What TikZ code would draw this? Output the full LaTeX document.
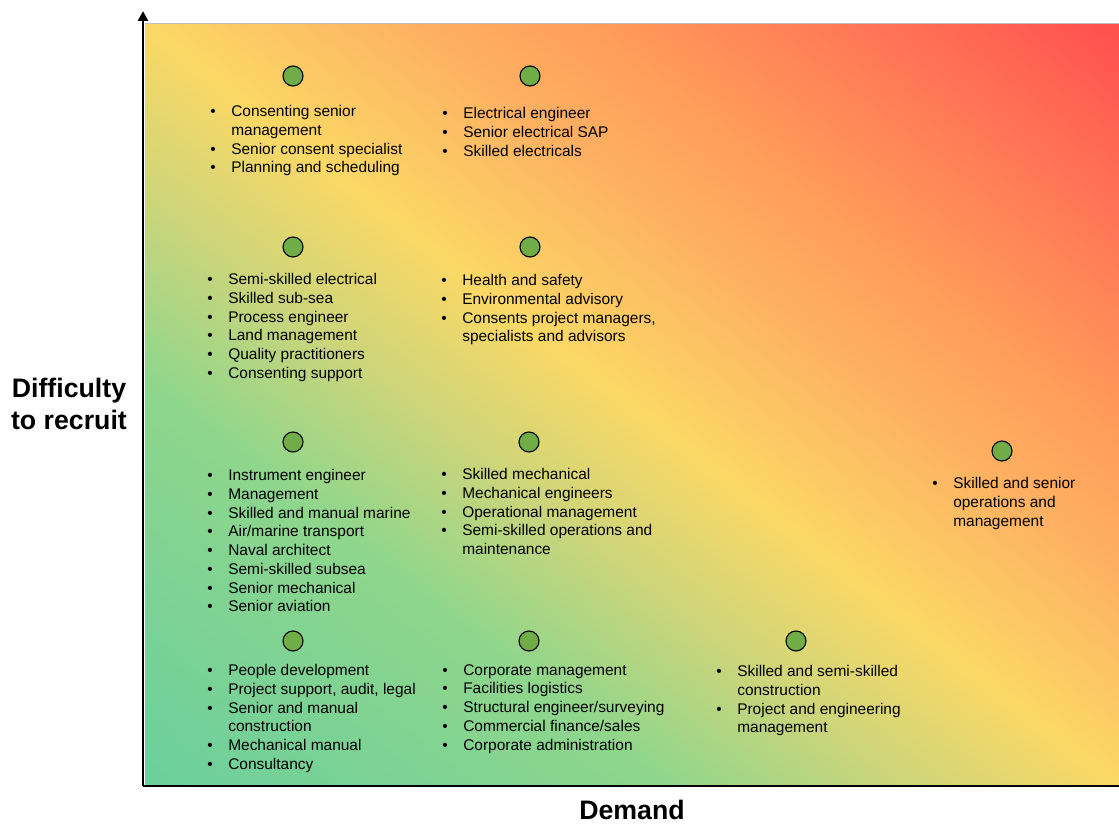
\documentclass[tikz,border=0pt]{standalone}
\usepackage{fontspec}
\setmainfont{Liberation Sans}
\usetikzlibrary{arrows.meta}

\definecolor{dotgreen}{HTML}{70AD47}
\definecolor{bgA}{HTML}{6BCF9D}
\definecolor{bgB}{HTML}{8ED68C}
\definecolor{bgC}{HTML}{CDD57A}
\definecolor{bgD}{HTML}{FBD865}
\definecolor{bgE}{HTML}{FDB062}
\definecolor{bgF}{HTML}{FF9F5A}
\definecolor{bgG}{HTML}{FF6F55}
\definecolor{bgH}{HTML}{FF4E4E}
% plot area corners sit at 20bp (bottom left) and 80bp (top right)
\pgfdeclarehorizontalshading{demandfade}{100bp}{color(0bp)=(bgA); color(20bp)=(bgA);
  color(36bp)=(bgB); color(43.4bp)=(bgC); color(50bp)=(bgD); color(58.4bp)=(bgE);
  color(63.2bp)=(bgF); color(73.4bp)=(bgG); color(80bp)=(bgH); color(100bp)=(bgH)}

\newcommand{\bitem}{\makebox[0.525cm][l]{\textbullet}}
\newcommand{\bcont}{\hspace*{0.525cm}}

\begin{document}
\begin{tikzpicture}[x=0.025cm, y=0.025cm,
  dot/.style={circle, draw=black, line width=0.8pt, fill=dotgreen, minimum size=0.5cm, inner sep=0pt},
  lst/.style={anchor=north west, align=left, inner sep=0pt, font=\fontsize{11pt}{13.35pt}\selectfont},
  axislbl/.style={align=center, inner sep=0pt, font=\fontsize{19pt}{22.7pt}\selectfont\bfseries},
  axis/.style={line width=1.8pt}]
  \useasboundingbox (0,0) rectangle (1119,-824);

  % background, gradient from bottom left to top right
  \begin{scope}
    \clip (145,-23) rectangle (1119,-785);
    \shade[shading=demandfade, shading angle=52] (132,-904) rectangle (1132,96);
  \end{scope}
  \draw[gray!50, line width=0.4pt] (145,-23) -- (1119,-23);

  % axes
  \coordinate (origin) at (143,-786);
  \coordinate (ytop) at (143,-11);
  \coordinate (xend) at (1119,-786);
  \draw[axis, -{Triangle[width=7pt,length=7pt]}] (origin) -- (ytop);
  \draw[axis] (origin) -- (xend);

  \node[axislbl] (ylabel) at (69,-404) {Difficulty\\to recruit};
  \node[axislbl] (xlabel) at (632,-810) {Demand};

  % top row
  \node[dot] (d11) at (293,-76) {};
  \node[lst] (l11) at (210,-105) {\bitem Consenting senior\\ \bcont management\\
    \bitem Senior consent specialist\\ \bitem Planning and scheduling};
  \node[dot] (d12) at (530,-76) {};
  \node[lst] (l12) at (442,-107) {\bitem Electrical engineer\\ \bitem Senior electrical SAP\\
    \bitem Skilled electricals};

  % second row
  \node[dot] (d21) at (293,-247) {};
  \node[lst] (l21) at (207,-273) {\bitem Semi-skilled electrical\\ \bitem Skilled sub-sea\\
    \bitem Process engineer\\ \bitem Land management\\ \bitem Quality practitioners\\
    \bitem Consenting support};
  \node[dot] (d22) at (530,-247) {};
  \node[lst] (l22) at (441,-274) {\bitem Health and safety\\ \bitem Environmental advisory\\
    \bitem Consents project managers,\\ \bcont specialists and advisors};

  % third row
  \node[dot] (d31) at (293,-442) {};
  \node[lst] (l31) at (207,-469) {\bitem Instrument engineer\\ \bitem Management\\
    \bitem Skilled and manual marine\\ \bitem Air/marine transport\\ \bitem Naval architect\\
    \bitem Semi-skilled subsea\\ \bitem Senior mechanical\\ \bitem Senior aviation};
  \node[dot] (d32) at (529,-442) {};
  \node[lst] (l32) at (441,-468) {\bitem Skilled mechanical\\ \bitem Mechanical engineers\\
    \bitem Operational management\\ \bitem Semi-skilled operations and\\ \bcont maintenance};
  \node[dot] (d34) at (1002,-451) {};
  \node[lst] (l34) at (932,-477) {\bitem Skilled and senior\\ \bcont operations and\\
    \bcont management};

  % bottom row
  \node[dot] (d41) at (293,-641) {};
  \node[lst] (l41) at (207,-664) {\bitem People development\\ \bitem Project support, audit, legal\\
    \bitem Senior and manual\\ \bcont construction\\ \bitem Mechanical manual\\
    \bitem Consultancy};
  \node[dot] (d42) at (529,-641) {};
  \node[lst] (l42) at (442,-664) {\bitem Corporate management\\ \bitem Facilities logistics\\
    \bitem Structural engineer/surveying\\ \bitem Commercial finance/sales\\
    \bitem Corporate administration};
  \node[dot] (d43) at (796,-641) {};
  \node[lst] (l43) at (716,-665) {\bitem Skilled and semi-skilled\\ \bcont construction\\
    \bitem Project and engineering\\ \bcont management};
\end{tikzpicture}
\end{document}
